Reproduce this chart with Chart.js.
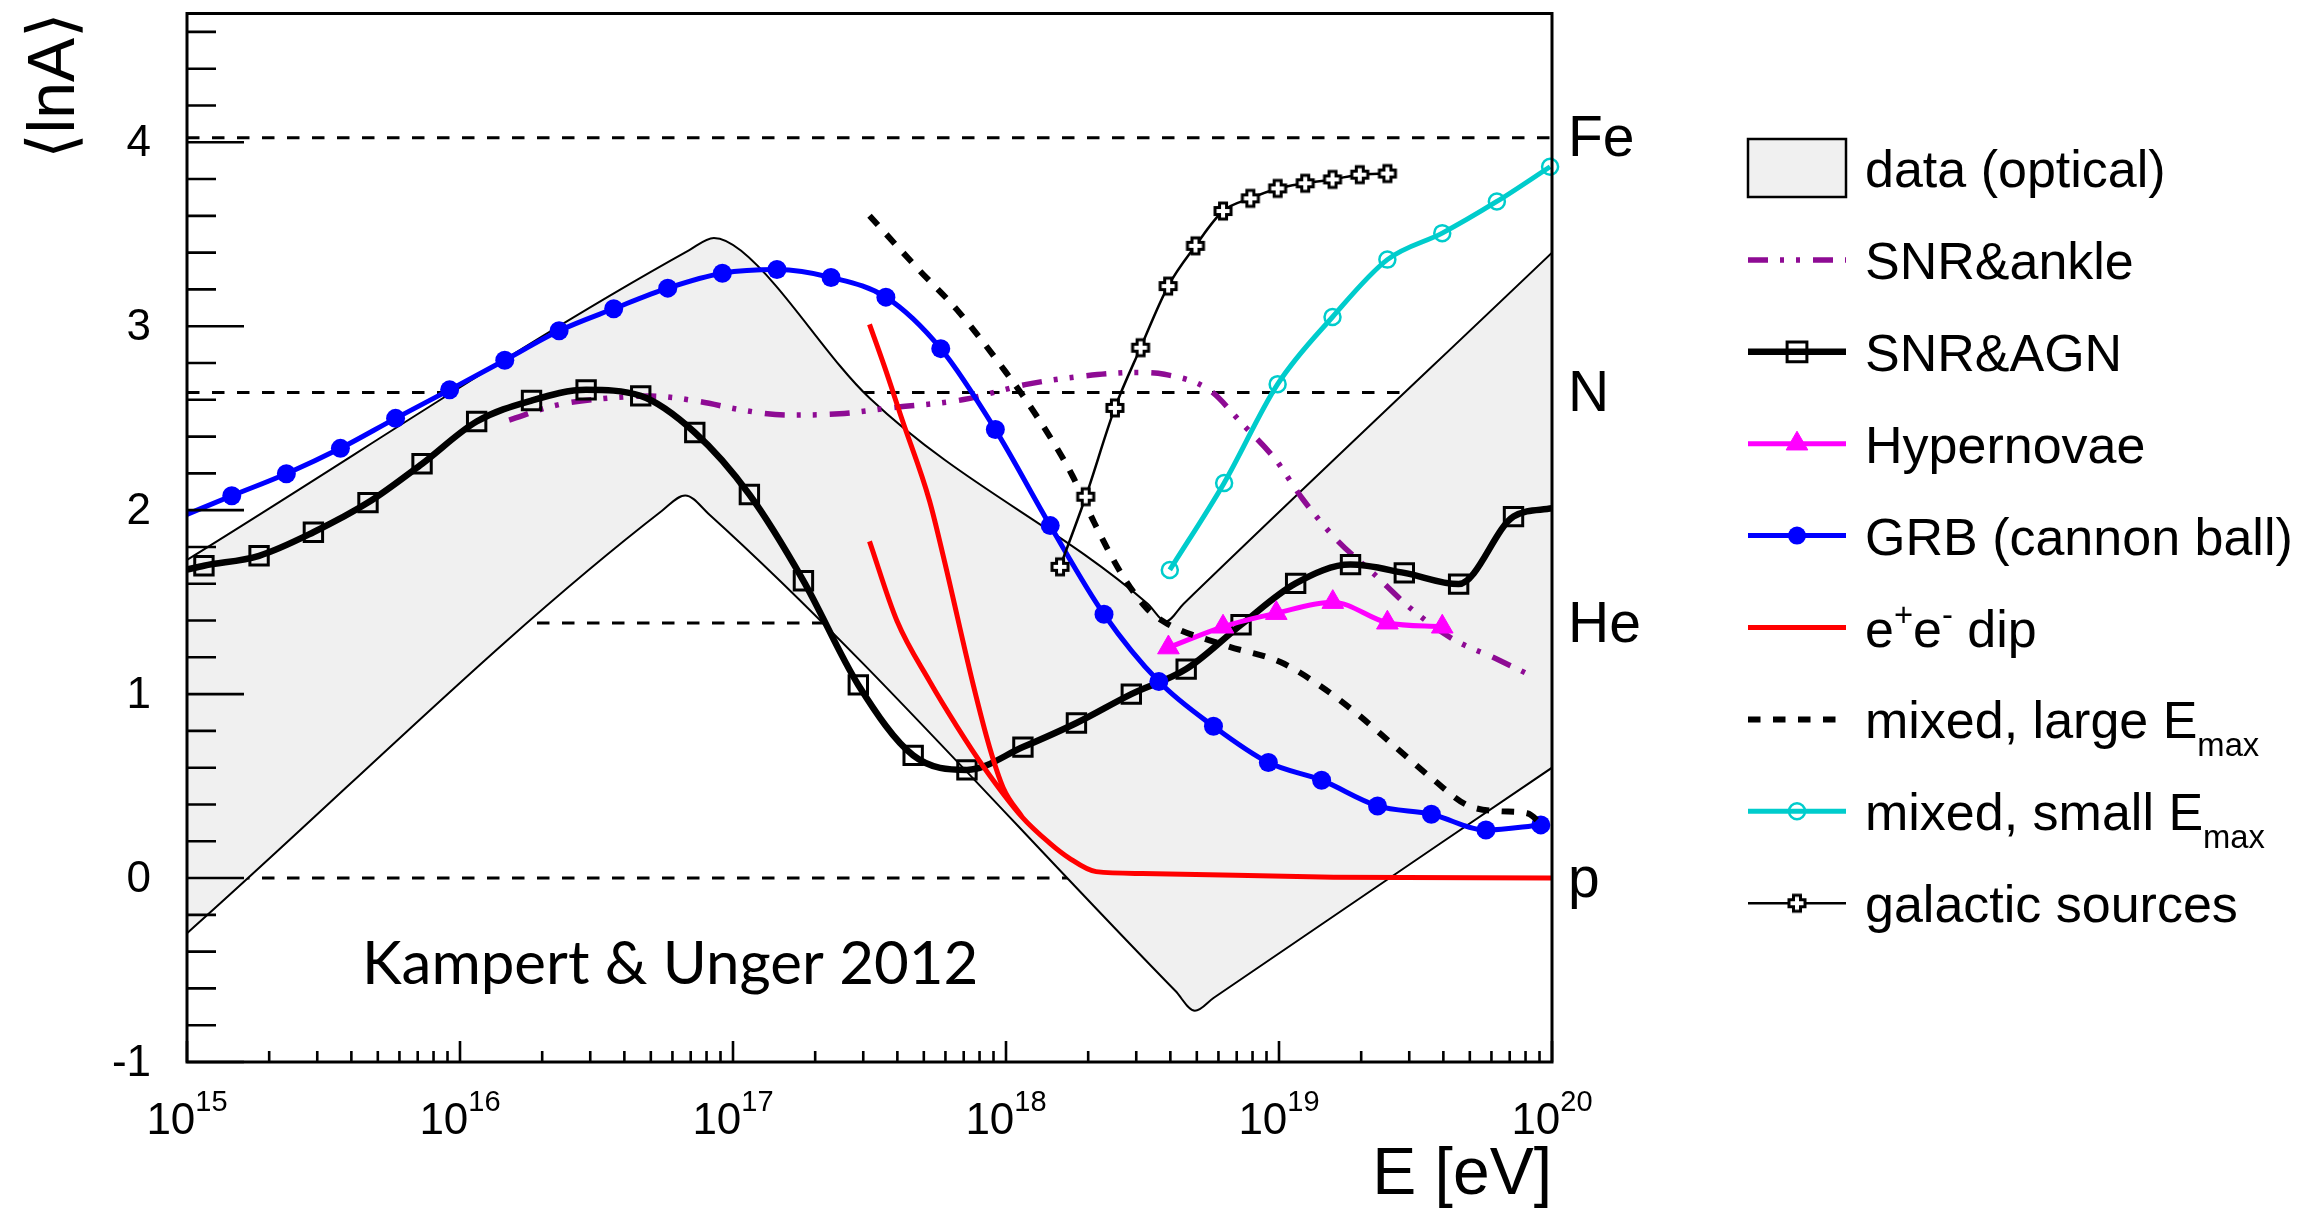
<!DOCTYPE html>
<html>
<head>
<meta charset="utf-8">
<script src="https://cdn.jsdelivr.net/npm/chart.js@4.4.1/dist/chart.umd.min.js"></script>
<style>
  html, body { margin: 0; padding: 0; background: #fff; }
  #wrap { width: 2315px; height: 1210px; }
</style>
</head>
<body>
<div id="wrap"><canvas id="lnA"></canvas></div>
<script>
// energies are kept as log10(E / eV)

const massNames = ['p', 'He', 'N', 'Fe'];
const massLnA = [0, 1.386, 2.639, 4.025];

const xExponents = [15, 16, 17, 18, 19, 20];
const yTickValues = [-1, 0, 1, 2, 3, 4];

// optical data band (upper and lower edge)
const bandUpperLogE = [15.0, 16.84, 16.93, 17.03, 17.50, 18.52, 18.585, 18.65, 20.0];
const bandUpperLnA  = [1.73, 3.414, 3.48, 3.41, 2.61, 1.49, 1.395, 1.49, 3.40];
const bandLowerLogE = [15.0, 16.74, 16.825, 16.91, 18.62, 18.692, 18.76, 20.0];
const bandLowerLnA  = [-0.30, 1.997, 2.08, 1.981, -0.613, -0.722, -0.652, 0.60];

// SNR & ankle
const ankleLogE = [16.18, 16.35, 16.55, 16.70, 16.88, 17.03, 17.20, 17.39, 17.58, 17.84, 18.08, 18.28,
                   18.48, 18.58, 18.745, 18.865, 18.986, 19.086, 19.206, 19.347, 19.487, 19.638, 19.788, 19.93];
const ankleLnA  = [2.49, 2.57, 2.61, 2.62, 2.59, 2.545, 2.517, 2.524, 2.556, 2.60, 2.685, 2.728,
                   2.749, 2.739, 2.653, 2.47, 2.277, 2.062, 1.847, 1.654, 1.46, 1.298, 1.197, 1.096];

// SNR & AGN
const agnLogE = [15.0, 15.062, 15.264, 15.463, 15.663, 15.861, 16.061, 16.262, 16.462, 16.662, 16.860, 17.06,
                 17.258, 17.459, 17.66, 17.857, 18.062, 18.258, 18.459, 18.660, 18.861, 19.061, 19.262,
                 19.459, 19.658, 19.859, 20.0];
const agnLnA  = [1.677, 1.698, 1.752, 1.880, 2.041, 2.252, 2.482, 2.596, 2.654, 2.621, 2.422, 2.085,
                 1.616, 1.050, 0.667, 0.588, 0.712, 0.843, 1.0, 1.136, 1.377, 1.602, 1.704,
                 1.659, 1.598, 1.965, 2.01];

// Hypernovae
const hyperLogE = [18.595, 18.795, 18.99, 19.197, 19.397, 19.598];
const hyperLnA  = [1.253, 1.366, 1.44, 1.50, 1.388, 1.366];

// GRB (cannon ball)
const grbLogE = [15.0, 15.164, 15.364, 15.562, 15.764, 15.962, 16.164, 16.363, 16.563, 16.761, 16.961, 17.161,
                 17.359, 17.56, 17.761, 17.961, 18.162, 18.359, 18.56, 18.76, 18.961, 19.156, 19.361,
                 19.558, 19.758, 19.959];
const grbLnA  = [1.977, 2.078, 2.198, 2.336, 2.499, 2.654, 2.815, 2.975, 3.095, 3.207, 3.288, 3.308,
                 3.265, 3.158, 2.878, 2.438, 1.916, 1.434, 1.068, 0.825, 0.628, 0.532, 0.392,
                 0.347, 0.261, 0.289];

// e+e- dip: two branches separated by a gap (null)
const dipLogE = [17.50, 17.555, 17.62, 17.72, 17.775, 17.88, 17.94, 17.99, 18.06, 18.06,
                 17.50, 17.60, 17.72, 17.82, 17.92, 18.06, 18.16, 18.23, 18.33, 18.5, 19.2, 20.0];
const dipLnA  = [3.01, 2.78, 2.49, 2.05, 1.72, 1.05, 0.71, 0.49, 0.33, null,
                 1.83, 1.40, 1.07, 0.825, 0.60, 0.33, 0.19, 0.11, 0.035, 0.025, 0.005, 0.0];

// mixed composition, large Emax
const largeLogE = [17.50, 17.68, 17.82, 18.00, 18.121, 18.242, 18.323, 18.423, 18.513, 18.584, 18.805, 19.005,
                   19.146, 19.287, 19.427, 19.568, 19.689, 19.809, 19.909, 19.975];
const largeLnA  = [3.60, 3.308, 3.09, 2.749, 2.492, 2.191, 1.933, 1.654, 1.47, 1.388, 1.264, 1.174,
                   1.05, 0.892, 0.712, 0.532, 0.397, 0.363, 0.352, 0.27];

// mixed composition, small Emax
const smallLogE = [18.6, 18.799, 18.995, 19.196, 19.397, 19.598, 19.798, 19.993];
const smallLnA  = [1.675, 2.148, 2.685, 3.05, 3.362, 3.506, 3.678, 3.867];

// galactic sources
const galLogE = [18.198, 18.292, 18.399, 18.493, 18.594, 18.694, 18.795, 18.895, 18.995, 19.096, 19.196, 19.296, 19.397];
const galLnA  = [1.692, 2.073, 2.556, 2.883, 3.218, 3.437, 3.626, 3.695, 3.749, 3.777, 3.798, 3.824, 3.83];


const FONT = '"Liberation Sans", Arial, sans-serif';
const E = (e) => Math.pow(10, e);

function series(logE, lnA) {
  return logE.map((e, i) => ({ x: E(e), y: lnA[i] }));
}

// no marker on the points that sit on the frame
const insideRadius = (r) => (c) => (c.raw && c.raw.x > E(15) && c.raw.x < E(20)) ? r : 0;

// open cross marker (like ROOT marker 28)
function openCross(size, arm, lw) {
  const c = document.createElement('canvas');
  c.width = c.height = Math.ceil(size + lw * 2);
  const g = c.getContext('2d');
  const m = c.width / 2, h = size / 2, a = arm / 2;
  g.beginPath();
  g.moveTo(m - a, m - h); g.lineTo(m + a, m - h); g.lineTo(m + a, m - a);
  g.lineTo(m + h, m - a); g.lineTo(m + h, m + a); g.lineTo(m + a, m + a);
  g.lineTo(m + a, m + h); g.lineTo(m - a, m + h); g.lineTo(m - a, m + a);
  g.lineTo(m - h, m + a); g.lineTo(m - h, m - a); g.lineTo(m - a, m - a);
  g.closePath();
  g.fillStyle = '#fff';
  g.fill();
  g.lineWidth = lw;
  g.strokeStyle = '#000';
  g.stroke();
  return c;
}
const crossImg = openCross(16, 7, 3);

const refLines = massLnA.map((v, i) => ({
  label: massNames[i],
  inLegend: false,
  data: [{ x: E(xExponents[0]), y: v }, { x: E(xExponents[xExponents.length - 1]), y: v }],
  borderColor: '#000',
  borderWidth: 3,
  borderDash: [12.5, 12.5],
  order: 30
}));

const datasets = refLines.concat([
  {
    label: 'data (optical)', inLegend: true, isBand: true,
    data: series(bandUpperLogE, bandUpperLnA),
    borderColor: '#000', borderWidth: 2, backgroundColor: '#f0f0f0',
    fill: '+1', order: 21
  },
  {
    label: 'optical lower edge', inLegend: false,
    data: series(bandLowerLogE, bandLowerLnA),
    borderColor: '#000', borderWidth: 2, fill: false, order: 20
  },
  {
    label: 'SNR&ankle', inLegend: true,
    data: series(ankleLogE, ankleLnA),
    borderColor: '#8e0b94', borderWidth: 5.5, borderDash: [20, 12, 4, 12, 4, 13], order: 9
  },
  {
    label: 'SNR&AGN', inLegend: true,
    data: series(agnLogE, agnLnA),
    borderColor: '#000', borderWidth: 6.5,
    pointStyle: 'rect', pointRadius: insideRadius(13), pointBorderWidth: 3,
    pointBorderColor: '#000', pointBackgroundColor: 'rgba(0,0,0,0)',
    clip: false, order: 8
  },
  {
    label: 'Hypernovae', inLegend: true,
    data: series(hyperLogE, hyperLnA),
    borderColor: '#ff00ff', borderWidth: 5,
    pointStyle: 'triangle', pointRadius: 12.5, pointBorderWidth: 1,
    pointBorderColor: '#ff00ff', pointBackgroundColor: '#ff00ff',
    clip: false, order: 7
  },
  {
    label: 'GRB (cannon ball)', inLegend: true,
    data: series(grbLogE, grbLnA),
    borderColor: '#0000ff', borderWidth: 5,
    pointStyle: 'circle', pointRadius: insideRadius(9.5), pointBorderWidth: 0,
    pointBorderColor: '#0000ff', pointBackgroundColor: '#0000ff',
    clip: false, order: 6
  },
  {
    label: 'e^{+}e^{-} dip', inLegend: true,
    data: series(dipLogE, dipLnA),
    borderColor: '#ff0000', borderWidth: 5, order: 5
  },
  {
    label: 'mixed, large E_{max}', inLegend: true,
    data: series(largeLogE, largeLnA),
    borderColor: '#000', borderWidth: 6, borderDash: [12.5, 12.5], order: 4
  },
  {
    label: 'mixed, small E_{max}', inLegend: true,
    data: series(smallLogE, smallLnA),
    borderColor: '#00cccc', borderWidth: 5,
    pointStyle: 'circle', pointRadius: 8, pointBorderWidth: 2.5,
    pointBorderColor: '#00cccc', pointBackgroundColor: 'rgba(0,0,0,0)',
    clip: false, order: 3
  },
  {
    label: 'galactic sources', inLegend: true,
    data: series(galLogE, galLnA),
    borderColor: '#000', borderWidth: 2.5,
    pointStyle: crossImg, pointRadius: 9,
    clip: false, order: 2
  }
]);


function drawMarker(ctx, ds, x, y) {
  const style = ds.pointStyle;
  let r = typeof ds.pointRadius === 'function' ? 9 : ds.pointRadius;
  if (!style || !r) return;
  ctx.save();
  if (typeof style === 'object') {
    ctx.drawImage(style, x - style.width / 2, y - style.height / 2);
    ctx.restore();
    return;
  }
  if (style === 'rect') r = 14;
  ctx.fillStyle = ds.pointBackgroundColor;
  ctx.strokeStyle = ds.pointBorderColor;
  ctx.lineWidth = ds.pointBorderWidth;
  ctx.beginPath();
  if (style === 'circle') {
    ctx.arc(x, y, r, 0, Math.PI * 2);
  } else if (style === 'rect') {
    const s = r * Math.SQRT1_2;
    ctx.rect(x - s, y - s, 2 * s, 2 * s);
  } else if (style === 'triangle') {
    for (let k = 0; k < 3; k++) {
      const a = k * 2 * Math.PI / 3;
      const px = x + Math.sin(a) * r, py = y - Math.cos(a) * r;
      if (k === 0) ctx.moveTo(px, py); else ctx.lineTo(px, py);
    }
    ctx.closePath();
  }
  ctx.fill();
  if (ds.pointBorderWidth > 0) ctx.stroke();
  ctx.restore();
}

// label text with ^{..} and _{..} markup
function drawRich(ctx, text, x, y, size) {
  const parts = [];
  const re = /(\^|_)\{([^}]*)\}/g;
  let last = 0, m;
  while ((m = re.exec(text))) {
    if (m.index > last) parts.push({ t: text.slice(last, m.index), k: '' });
    parts.push({ t: m[2], k: m[1] });
    last = re.lastIndex;
  }
  if (last < text.length) parts.push({ t: text.slice(last), k: '' });
  let cx = x;
  for (const p of parts) {
    const s = p.k ? size * 0.63 : size;
    ctx.font = s + 'px ' + FONT;
    const dy = p.k === '^' ? -size * 0.4 : (p.k === '_' ? size * 0.34 : 0);
    ctx.fillText(p.t, cx, y + dy);
    cx += ctx.measureText(p.t).width;
  }
}

const frameAndTicks = {
  id: 'frameAndTicks',
  afterDatasetsDraw(chart) {
    const { ctx, chartArea: a, scales: { x, y } } = chart;
    ctx.save();
    ctx.strokeStyle = '#000';
    ctx.lineCap = 'butt';
    ctx.lineWidth = 2.6;
    ctx.beginPath();
    // y ticks every 0.2, long ones on integers
    for (let k = -5; k <= 23; k++) {
      const py = y.getPixelForValue(k / 5);
      const len = k % 5 === 0 ? 57 : 29;
      ctx.moveTo(a.left, py);
      ctx.lineTo(a.left + len, py);
    }
    // x ticks on 1..9 x 10^n
    for (let i = 0; i < xExponents.length; i++) {
      const ex = xExponents[i];
      const mult = i === xExponents.length - 1 ? [1] : [1, 2, 3, 4, 5, 6, 7, 8, 9];
      for (const mm of mult) {
        const px = x.getPixelForValue(mm * E(ex));
        const len = mm === 1 ? 21 : 11;
        ctx.moveTo(px, a.bottom);
        ctx.lineTo(px, a.bottom - len);
      }
    }
    ctx.stroke();
    ctx.lineWidth = 3;
    ctx.strokeRect(a.left, a.top, a.right - a.left, a.bottom - a.top);
    ctx.restore();
  },
  afterDraw(chart) {
    const { ctx, chartArea: a, scales: { x, y } } = chart;
    ctx.save();
    ctx.fillStyle = '#000';

    // y tick labels
    ctx.font = '44px ' + FONT;
    ctx.textAlign = 'right';
    ctx.textBaseline = 'middle';
    for (const v of yTickValues) {
      ctx.fillText(String(v), a.left - 36, y.getPixelForValue(v) + 2);
    }

    // x tick labels 10^n
    ctx.textAlign = 'left';
    ctx.textBaseline = 'alphabetic';
    for (const ex of xExponents) {
      const px = x.getPixelForValue(E(ex));
      ctx.font = '44px ' + FONT;
      const wb = ctx.measureText('10').width;
      ctx.font = '29px ' + FONT;
      const we = ctx.measureText(String(ex)).width;
      const sx = px - (wb + we) / 2;
      ctx.font = '44px ' + FONT;
      ctx.fillText('10', sx, a.bottom + 72);
      ctx.font = '29px ' + FONT;
      ctx.fillText(String(ex), sx + wb, a.bottom + 49);
    }

    // axis titles
    ctx.font = '66px ' + FONT;
    ctx.textAlign = 'right';
    ctx.fillText('E [eV]', a.right, 1194);
    ctx.save();
    ctx.translate(74, 12);
    ctx.rotate(-Math.PI / 2);
    ctx.font = '66px ' + FONT;
    ctx.textAlign = 'right';
    ctx.fillText('\u27E8lnA\u27E9', 0, 0);
    ctx.restore();

    // element names on the right of the frame
    ctx.font = '57px ' + FONT;
    ctx.textAlign = 'left';
    ctx.textBaseline = 'middle';
    massNames.forEach((n, i) => {
      ctx.fillText(n, a.right + 16, y.getPixelForValue(massLnA[i]) + 3);
    });

    // reference note
    ctx.font = '60px Lato, "Open Sans", sans-serif';
    ctx.textBaseline = 'alphabetic';
    ctx.fillText('Kampert & Unger 2012', 362, 984);

    // legend
    const lx0 = 1748, lx1 = 1846, tx = 1865;
    let row = 0;
    chart.data.datasets.forEach((ds) => {
      if (!ds.inLegend) return;
      const ly = 168 + row * 91.9;
      row++;
      if (ds.isBand) {
        ctx.fillStyle = ds.backgroundColor;
        ctx.fillRect(lx0, ly - 29, lx1 - lx0, 58);
        ctx.strokeStyle = '#000';
        ctx.lineWidth = 2.5;
        ctx.strokeRect(lx0, ly - 29, lx1 - lx0, 58);
      } else {
        ctx.save();
        ctx.strokeStyle = ds.borderColor;
        ctx.lineWidth = ds.borderWidth;
        ctx.setLineDash(ds.borderDash || []);
        ctx.beginPath();
        ctx.moveTo(lx0, ly);
        ctx.lineTo(lx1, ly);
        ctx.stroke();
        ctx.restore();
        drawMarker(ctx, ds, (lx0 + lx1) / 2, ly);
      }
      ctx.fillStyle = '#000';
      ctx.textAlign = 'left';
      ctx.textBaseline = 'alphabetic';
      drawRich(ctx, ds.label, tx, ly + 19, 52);
    });
    ctx.restore();
  }
};

Chart.defaults.font.family = FONT;

new Chart(document.getElementById('lnA'), {
  type: 'line',
  data: { datasets: datasets },
  options: {
    responsive: true,
    maintainAspectRatio: false,
    animation: false,
    events: [],
    parsing: true,
    layout: { padding: { left: 0, top: 13, right: 763, bottom: 0 } },
    elements: {
      line: { cubicInterpolationMode: 'monotone', fill: false, borderCapStyle: 'butt' },
      point: { radius: 0, hoverRadius: 0 }
    },
    scales: {
      x: {
        type: 'logarithmic',
        min: E(xExponents[0]),
        max: E(xExponents[xExponents.length - 1]),
        grid: { display: false },
        border: { display: false },
        ticks: { display: false },
        afterFit: (s) => { s.height = 148; }
      },
      y: {
        type: 'linear',
        min: -1,
        max: 4.7,
        grid: { display: false },
        border: { display: false },
        ticks: { display: false },
        afterFit: (s) => { s.width = 187; }
      }
    },
    plugins: {
      legend: { display: false },
      tooltip: { enabled: false },
      filler: { propagate: false }
    }
  },
  plugins: [frameAndTicks]
});
</script>
</body>
</html>
